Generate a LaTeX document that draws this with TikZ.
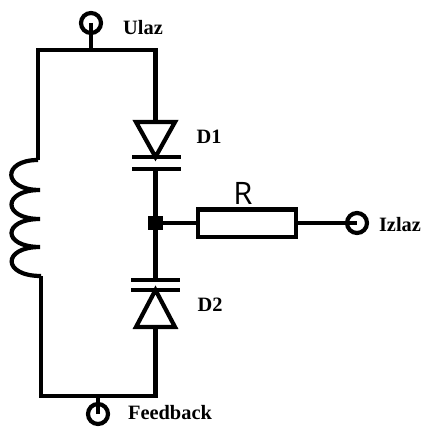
\documentclass[tikz,border=0pt]{standalone}
\usepackage{fontspec}
\setmainfont{Liberation Serif}
\newfontfamily\rfont{Open Sans}
\tikzset{
    wire/.style={line width=1.05mm,line join=miter},
    terminal/.style={circle,draw,line width=1.05mm,minimum size=5mm,inner sep=0pt},
    junction/.style={rectangle,fill,minimum size=3.6mm,inner sep=0pt},
    resistor/.style={rectangle,draw,line width=1.05mm,fill=white,minimum width=24.6mm,minimum height=6.8mm,inner sep=0pt},
    lbl/.style={font=\bfseries\fontsize{14.5}{16}\selectfont,inner sep=0pt},
}
\begin{document}
\begin{tikzpicture}[x=.25mm,y=-.25mm]
    \useasboundingbox (0,0) rectangle (421,428);
    % terminals and corners
    \coordinate (tl) at (38,50);
    \coordinate (tm) at (91,50);
    \coordinate (tr) at (155.5,50);
    \coordinate (bl) at (41,396);
    \coordinate (bm) at (98,396);
    \coordinate (br) at (155.5,396);
    \coordinate (L1) at (38,160);
    \coordinate (L2) at (41,276);
    \node[terminal] (ulaz) at (91,23) {};
    \node[terminal] (feedback) at (98,414) {};
    \node[terminal] (izlaz) at (357,223) {};
    \node[junction] (mid) at (155.5,223) {};
    \node[resistor] (res) at (247,223) {};
    % outer loop
    \draw[wire] (ulaz.center) -- (tm);
    \draw[wire] (feedback.center) -- (bm);
    \draw[wire] (L1) -- (tl) -- (tr) -- (155.5,122);
    \draw[wire] (L2) -- (bl) -- (br) -- (155.5,327);
    % inductor
    \draw[wire] (L1) .. controls (2,160) and (2,190) .. (40,190)
                .. controls (2,190) and (2,219) .. (40,219)
                .. controls (2,219) and (2,247) .. (40,247)
                .. controls (2,247) and (2,276) .. (L2);
    % D1
    \coordinate (d1a) at (136,122);
    \coordinate (d1b) at (175,122);
    \coordinate (d1c) at (155.5,157);
    \draw[wire] (d1a) -- (d1b) -- (d1c) -- cycle;
    \draw[wire] (132,157) -- (181,157);
    \draw[wire] (132,169) -- (181,169);
    \draw[wire] (155.5,169) -- (mid);
    % D2
    \coordinate (d2a) at (136,327);
    \coordinate (d2b) at (175,327);
    \coordinate (d2c) at (155.5,290);
    \draw[wire] (d2a) -- (d2b) -- (d2c) -- cycle;
    \draw[wire] (131,280) -- (180,280);
    \draw[wire] (131,290) -- (180,290);
    \draw[wire] (155.5,280) -- (mid);
    % output
    \draw[wire] (mid) -- (res);
    \draw[wire] (res) -- (izlaz.center);
    % labels
    \node[lbl] (ulazlbl) at (143,28) {Ulaz};
    \node[lbl] (d1lbl) at (209,137) {D1};
    \node[lbl] (d2lbl) at (210,305) {D2};
    \node[lbl] (izlazlbl) at (400,225) {Izlaz};
    \node[lbl] (feedbacklbl) at (170,413) {Feedback};
    \node[font=\rfont\fontsize{22}{24}\selectfont,inner sep=0pt] (rlbl) at (243,193) {R};
\end{tikzpicture}
\end{document}
